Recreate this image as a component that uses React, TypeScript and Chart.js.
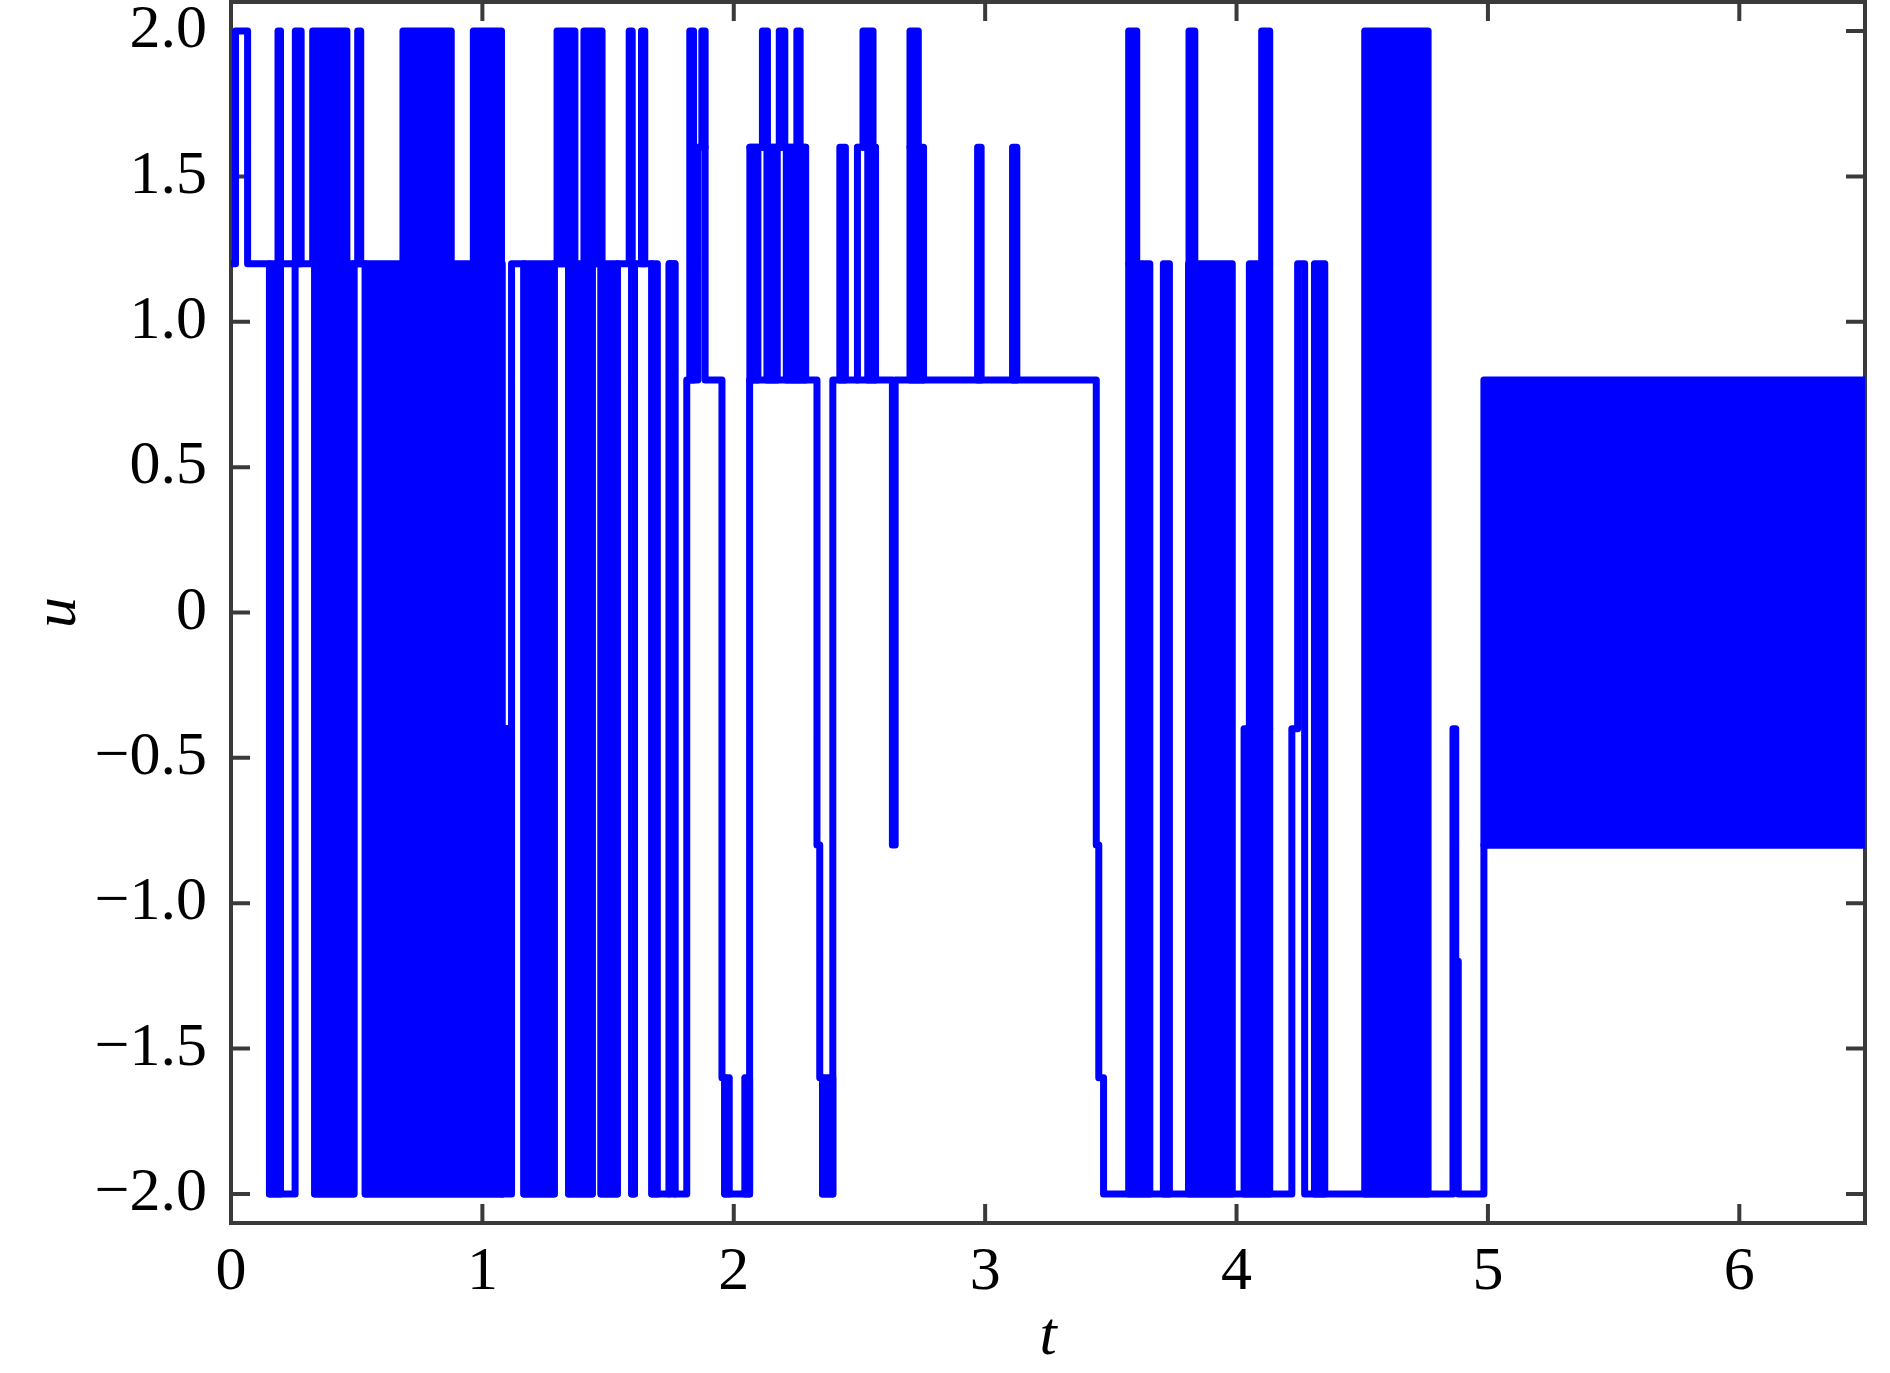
import React, { useEffect, useRef } from "react";
import { Chart, registerables } from "chart.js";

Chart.register(...registerables);

// ---- axis ticks ----
const xTicks = [0, 1, 2, 3, 4, 5, 6];
const xTickLabels = ["0", "1", "2", "3", "4", "5", "6"];
const yTicks = [-2, -1.5, -1, -0.5, 0, 0.5, 1, 1.5, 2];
const yTickLabels = ["−2.0", "−1.5", "−1.0", "−0.5", "0", "0.5", "1.0", "1.5", "2.0"];

// ---- control signal u(t): switching instants and held values (stairs) ----
const traceT = [
  0, 0.018, 0.066, 0.153, 0.255, 0.333, 0.489, 0.534, 1.079, 1.116, 1.165,
  1.286, 1.343, 1.437, 1.472, 1.537, 1.594, 1.605, 1.674, 1.743, 1.766, 1.813,
  1.857, 1.886, 1.953, 1.964, 2.063, 2.331, 2.342, 2.353, 2.394, 2.631, 2.642,
  3.442, 3.452, 3.471, 4.22, 4.243, 4.271, 4.861, 4.872, 4.882, 4.984, 6.5,
];
const traceU = [
  1.2, 2.0, 1.2, -2.0, 1.2, -2.0, 1.2, -2.0, -0.4, 1.2, -2.0,
  1.2, -2.0, 1.2, -2.0, 1.2, -2.0, 1.2, -2.0, 1.2, -2.0, 0.8,
  1.6, 0.8, -1.6, -2.0, 0.8, -0.8, -1.6, -2.0, 0.8, -0.8, 0.8,
  -0.8, -1.6, -2.0, -0.4, 1.2, -2.0, -0.4, -1.2, -2.0, -0.8, -0.8,
];

// ---- chattering intervals: u switches rapidly between bandLow and bandHigh ----
const bandStart = [
  0.153, 0.187, 0.256, 0.197, 0.325, 0.333, 0.504, 0.534, 1.079, 0.684, 0.964,
  1.165, 1.297, 1.404, 1.343, 1.472, 1.584, 1.633, 1.594, 1.674, 1.743, 1.825,
  1.873, 1.964, 2.044, 2.064, 2.114, 2.132, 2.181, 2.209, 2.251, 2.064, 2.353,
  2.422, 2.492, 2.514, 2.533, 2.492, 2.701, 2.701, 2.97, 3.109, 3.571, 3.571,
  3.709, 3.809, 3.811, 4.03, 4.051, 4.1, 4.31, 4.51, 4.984,
];
const bandEnd = [
  0.197, 0.197, 0.279, 0.255, 0.461, 0.489, 0.516, 1.079, 1.116, 0.876, 1.076,
  1.286, 1.368, 1.476, 1.437, 1.537, 1.596, 1.646, 1.605, 1.696, 1.766, 1.84,
  1.886, 1.982, 2.063, 2.096, 2.134, 2.173, 2.203, 2.286, 2.264, 2.286, 2.394,
  2.444, 2.492, 2.554, 2.564, 2.564, 2.734, 2.755, 2.984, 3.126, 3.655, 3.603,
  3.733, 3.983, 3.834, 4.132, 4.132, 4.132, 4.351, 4.762, 6.5,
];
const bandLow = [
  -2, 1.2, 1.2, 1.2, 1.2, -2, 1.2, -2, -2, 1.2, 1.2,
  -2, 1.2, 1.2, -2, -2, 1.2, 1.2, -2, -2, -2, 0.8,
  1.6, -2, -2, 0.8, 1.6, 0.8, 1.6, 0.8, 1.6, 1.6, -2,
  0.8, 0.8, 1.6, 0.8, 1.6, 1.6, 0.8, 0.8, 0.8, -2, 1.2,
  -2, -2, 1.2, -2, -0.4, 1.2, -2, -2, -0.8,
];
const bandHigh = [
  1.2, 2, 2, 1.2, 2, 1.2, 2, 1.2, -0.4, 2, 2,
  1.2, 2, 2, 1.2, 1.2, 2, 2, 1.2, 1.2, 1.2, 2,
  2, -1.6, -1.6, 1.6, 2, 1.6, 2, 1.6, 2, 1.6, -1.6,
  1.6, 1.6, 2, 1.6, 1.6, 2, 1.6, 1.6, 1.6, 1.2, 2,
  1.2, 1.2, 2, -0.4, 1.2, 2, 1.2, 2, 0.8,
];

const BLUE = "#0000ff";
const AXIS = "#3a3a3a";
const LINE_W = 7;
const SERIF = "'Liberation Serif', 'Times New Roman', serif";

const framePlugin = {
  id: "frame",
  beforeDatasetsDraw(chart: any) {
    const { ctx, chartArea: a, scales } = chart;
    ctx.save();
    ctx.strokeStyle = AXIS;
    ctx.lineWidth = 4;
    ctx.lineCap = "butt";
    ctx.strokeRect(a.left, a.top, a.right - a.left, a.bottom - a.top);
    const L = 19;
    ctx.beginPath();
    for (const v of xTicks) {
      const x = scales.x.getPixelForValue(v);
      ctx.moveTo(x, a.bottom);
      ctx.lineTo(x, a.bottom - L);
      ctx.moveTo(x, a.top);
      ctx.lineTo(x, a.top + L);
    }
    for (const v of yTicks) {
      const y = scales.y.getPixelForValue(v);
      ctx.moveTo(a.left, y);
      ctx.lineTo(a.left + L, y);
      ctx.moveTo(a.right, y);
      ctx.lineTo(a.right - L, y);
    }
    ctx.stroke();
    ctx.restore();
  },
  afterDraw(chart: any) {
    const { ctx, chartArea: a } = chart;
    ctx.save();
    ctx.fillStyle = "#000";
    ctx.font = `italic 62px ${SERIF}`;
    ctx.textAlign = "center";
    ctx.textBaseline = "alphabetic";
    ctx.fillText("t", (a.left + a.right) / 2, a.bottom + 131);
    ctx.translate(75, (a.top + a.bottom) / 2);
    ctx.rotate(-Math.PI / 2);
    ctx.fillText("u", 0, 0);
    ctx.restore();
  },
};

export default function App() {
  const ref = useRef<HTMLCanvasElement | null>(null);

  useEffect(() => {
    if (!ref.current) return;
    const traceData = traceT.map((t, i) => ({ x: t, y: traceU[i] }));
    const bandSets = bandStart.map((t0, i) => {
      const t1 = bandEnd[i];
      const lo = bandLow[i];
      const hi = bandHigh[i];
      return {
        label: "chatter" + i,
        data: [
          { x: t0, y: lo },
          { x: t0, y: hi },
          { x: t1, y: hi },
          { x: t1, y: lo },
          { x: t0, y: lo },
        ],
        borderColor: BLUE,
        backgroundColor: BLUE,
        borderWidth: LINE_W,
        borderJoinStyle: "round" as const,
        borderCapStyle: "round" as const,
        pointRadius: 0,
        fill: "shape" as any,
        tension: 0,
      };
    });

    const chart = new Chart(ref.current, {
      type: "line",
      data: {
        datasets: [
          {
            label: "u",
            data: traceData,
            stepped: "before",
            borderColor: BLUE,
            backgroundColor: BLUE,
            borderWidth: LINE_W,
            borderJoinStyle: "round",
            borderCapStyle: "round",
            pointRadius: 0,
            fill: false,
          } as any,
          ...bandSets,
        ],
      },
      options: {
        responsive: false,
        animation: false,
        devicePixelRatio: 1,
        layout: { padding: { top: 2, right: 25, left: 0, bottom: 0 } },
        plugins: {
          legend: { display: false },
          tooltip: { enabled: false },
        },
        scales: {
          x: {
            type: "linear",
            min: 0,
            max: 6.5,
            afterBuildTicks: (s: any) => {
              s.ticks = xTicks.map((v) => ({ value: v }));
            },
            afterFit: (s: any) => {
              s.height = 150;
              s.paddingLeft = 0;
              s.paddingRight = 0;
            },
            grid: { display: false, drawTicks: false },
            border: { display: false },
            ticks: {
              autoSkip: false,
              maxRotation: 0,
              padding: 13,
              color: "#000",
              font: { family: SERIF, size: 62 },
              callback: (v: any) => {
                const i = xTicks.findIndex((t) => Math.abs(t - Number(v)) < 1e-9);
                return i >= 0 ? xTickLabels[i] : "";
              },
            },
          },
          y: {
            type: "linear",
            min: -2.1,
            max: 2.1,
            afterBuildTicks: (s: any) => {
              s.ticks = yTicks.map((v) => ({ value: v }));
            },
            afterFit: (s: any) => {
              s.width = 231;
              s.paddingTop = 0;
              s.paddingBottom = 0;
            },
            grid: { display: false, drawTicks: false },
            border: { display: false },
            ticks: {
              autoSkip: false,
              padding: 24,
              color: "#000",
              font: { family: SERIF, size: 62 },
              callback: (v: any) => {
                const i = yTicks.findIndex((t) => Math.abs(t - Number(v)) < 1e-9);
                return i >= 0 ? yTickLabels[i] : "";
              },
            },
          },
        },
      },
      plugins: [framePlugin],
    });
    return () => chart.destroy();
  }, []);

  return (
    <div style={{ position: "absolute", left: 0, top: 0, width: 1890, height: 1373, background: "#fff" }}>
      <canvas ref={ref} width={1890} height={1373} style={{ display: "block" }} />
    </div>
  );
}
